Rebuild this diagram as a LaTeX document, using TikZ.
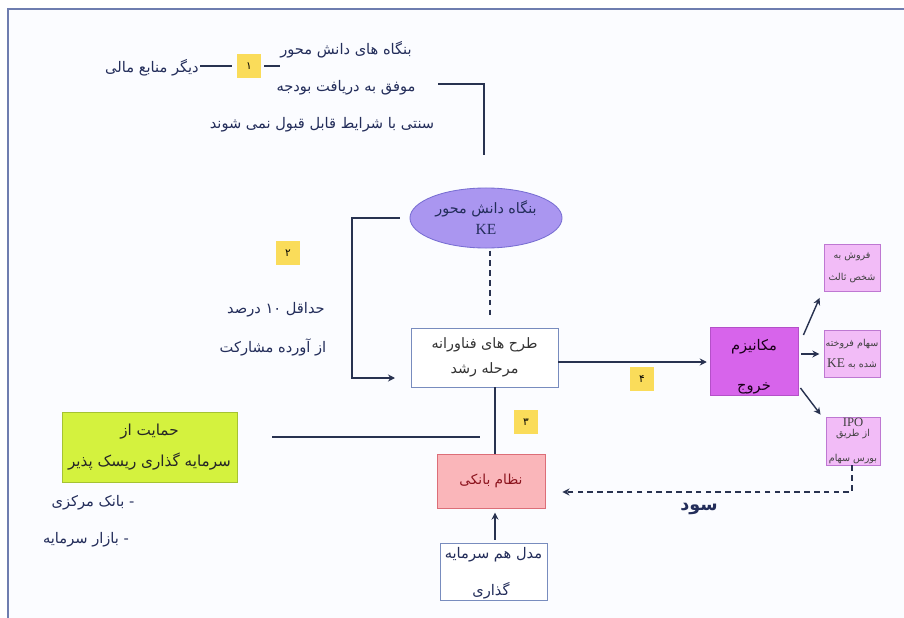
\documentclass[tikz,border=0pt]{standalone}
\usepackage{fontspec}
\usetikzlibrary{shapes.geometric,arrows.meta}
\TeXXeTstate=1
\newfontfamily\arabicfont[Script=Arabic]{DejaVu Sans}
\setmainfont{Liberation Serif}
\newcommand\fa[1]{\beginR #1\endR}
\newcommand\la[1]{\beginL #1\endL{}}
\definecolor{txt}{RGB}{35,45,90}
\definecolor{frm}{RGB}{110,125,175}
\definecolor{ln}{RGB}{40,50,80}
\definecolor{kefill}{RGB}{170,150,240}
\definecolor{kedraw}{RGB}{120,110,210}
\definecolor{bxdraw}{RGB}{120,140,190}
\definecolor{vio}{RGB}{215,100,235}
\definecolor{viodraw}{RGB}{180,80,200}
\definecolor{pinkf}{RGB}{242,188,247}
\definecolor{pinkd}{RGB}{190,120,210}
\definecolor{grn}{RGB}{212,242,62}
\definecolor{grnd}{RGB}{165,195,50}
\definecolor{bankf}{RGB}{250,182,186}
\definecolor{bankd}{RGB}{220,110,120}
\definecolor{banktxt}{RGB}{140,20,30}
\definecolor{yel}{RGB}{250,220,90}
\definecolor{bg}{RGB}{251,252,255}
\tikzset{
  lbl/.style={font=\arabicfont\fontsize{10.4}{12}\selectfont, text=txt, inner sep=0pt},
  numbox/.style={fill=yel, minimum width=0.6cm, minimum height=0.6cm, inner sep=0pt,
    font=\arabicfont\fontsize{7.5}{8}\selectfont, text=black},
  conn/.style={draw=ln, line width=1pt},
  arr/.style={conn, -{Stealth[length=5pt,width=5pt]}},
  whitebox/.style={draw=bxdraw, fill=white, line width=0.6pt, align=center,
    font=\arabicfont\fontsize{10.2}{18}\selectfont, text=black!80},
  pinkbox/.style={draw=pinkd, fill=pinkf, line width=0.6pt, align=center, inner sep=0pt,
    minimum width=1.4cm, minimum height=1.175cm,
    font=\arabicfont\fontsize{6.8}{15.5}\selectfont, text=black!75}
}
\begin{document}
\begin{tikzpicture}[x=0.025cm,y=-0.025cm]
\useasboundingbox (0,0) rectangle (904,618);
\fill[bg] (8,9) rectangle (904,618);
\draw[frm, line width=0.8pt] (8,618) -- (8,9) -- (904,9);

% top block
\node[lbl] (t1) at (346,50) {\fa{بنگاه های دانش محور}};
\node[lbl] (t2) at (346,88) {\fa{موفق به دریافت بودجه}};
\node[lbl] (t3) at (322,125) {\fa{سنتی با شرایط قابل قبول نمی شوند}};
\node[lbl] (other) at (152,68) {\fa{دیگر منابع مالی}};
\node[numbox] (n1) at (249,66) {۱};
\draw[conn, shorten <=1pt, shorten >=3pt] (other.east |- n1.west) -- (n1.west);
\draw[conn, shorten <=2pt] (n1.east) -- (n1.east -| t1.west);
\coordinate (c1) at (438,84);
\coordinate (c2) at (484,155);
\draw[conn] (c1) -| (c2);

% KE ellipse
\node[ellipse, draw=kedraw, fill=kefill, line width=0.6pt, minimum width=3.8cm, minimum height=1.5cm,
  align=center, inner sep=0pt, font=\arabicfont\fontsize{10.2}{15}\selectfont, text=txt] (ke) at (486,218)
  {\fa{بنگاه دانش محور}\\ \la{\rmfamily\fontsize{11}{15}\selectfont KE}};

% plan box
\node[whitebox, minimum width=3.675cm, minimum height=1.475cm] (plan) at (484.5,357.5)
  {\fa{طرح های فناورانه}\\ \fa{مرحله رشد}};
\coordinate (dx) at (490,0);
\draw[conn, dash pattern=on 4pt off 3pt, shorten <=1.5pt, shorten >=9pt] (ke.south -| dx) -- (plan.north -| dx);

% loop arrow 2
\coordinate (lp) at (352,218);
\coordinate (la) at (395,378);
\draw[arr, shorten <=7pt] (ke.west) -- (lp) |- (la);
\node[numbox] (n2) at (288,253) {۲};
\node[lbl] (m1) at (276,310) {\fa{حداقل ۱۰ درصد}};
\node[lbl] (m2) at (273,347) {\fa{از آورده مشارکت}};

% exit mechanism
\node[draw=viodraw, fill=vio, line width=0.6pt, minimum width=2.2cm, minimum height=1.7cm, align=center,
  inner ysep=0pt, font=\arabicfont\fontsize{10.4}{28}\selectfont, text=black!80!violet] (m) at (754,361)
  {\rule{0pt}{16pt}\fa{مکانیزم}\\ \fa{خروج}};
\draw[arr, shorten >=2pt] (plan.east |- 0,362) -- (m.west |- 0,362);
\node[numbox] (n4) at (642,379) {۴};

\node[pinkbox] (r1) at (852,268) {\fa{فروش به}\\ \fa{شخص ثالث}};
\node[pinkbox] (r2) at (852,354) {\fa{سهام فروخته}\\ \fa{شده به \la{\rmfamily\fontsize{9.5}{10}\selectfont KE}}};
\node[pinkbox, minimum width=1.35cm, minimum height=1.2cm, font=\arabicfont\fontsize{6.8}{7.5}\selectfont] (r3) at (853,441)
  {\la{\rmfamily\fontsize{9}{8}\selectfont IPO}\\ \fa{از طریق}\\[10pt] \fa{بورس سهام}};
\draw[arr] ([shift={(5,-26)}]m.east) -- ([shift={(-4,6)}]r1.south west);
\draw[arr, shorten <=2pt, shorten >=3pt] (m.east |- r2.west) -- (r2.west);
\draw[arr] ([shift={(2,27)}]m.east) -- ([shift={(-5,-2)}]r3.north west);

% bank
\node[draw=bankd, fill=bankf, line width=0.6pt, minimum width=2.7cm, minimum height=1.35cm,
  font=\arabicfont\fontsize{9.8}{11}\selectfont, text=banktxt] (bank) at (491,481) {\fa{نظام بانکی}};
\coordinate (vx) at (495,0);
\draw[conn] (plan.south -| vx) -- (bank.north -| vx);
\node[numbox] (n3) at (526,422) {۳};
\coordinate (h1) at (272,437);
\coordinate (h2) at (480,437);
\draw[conn] (h1) -- (h2);

\node[whitebox, minimum width=2.675cm, minimum height=1.425cm] (model) at (493.5,571.5) {};
\node[lbl] (mod1) at (493.5,555) {\fa{مدل هم سرمایه}};
\node[lbl] (mod2) at (491,591) {\fa{گذاری}};
\draw[arr, shorten <=2pt, shorten >=3pt] (model.north -| vx) -- (bank.south -| vx);

% profit
\draw[conn, dash pattern=on 4pt off 3pt, -{Stealth[length=5pt,width=5pt]}] (r3.south -| 852,0) |- ([shift={(17,11)}]bank.east);
\node[lbl, font=\arabicfont\bfseries\fontsize{12.5}{14}\selectfont] (sood) at (699,509) {\fa{سود}};

% green
\node[draw=grnd, fill=grn, line width=0.6pt, minimum width=4.375cm, minimum height=1.75cm, align=center,
  font=\arabicfont\fontsize{10.8}{22}\selectfont, text=black!85] (green) at (149.5,447)
  {\fa{حمایت از}\\ \fa{سرمایه گذاری ریسک پذیر}};
\node[lbl] (b1) at (93,503) {\fa{- بانک مرکزی}};
\node[lbl] (b2) at (86,540) {\fa{- بازار سرمایه}};
\end{tikzpicture}
\end{document}
